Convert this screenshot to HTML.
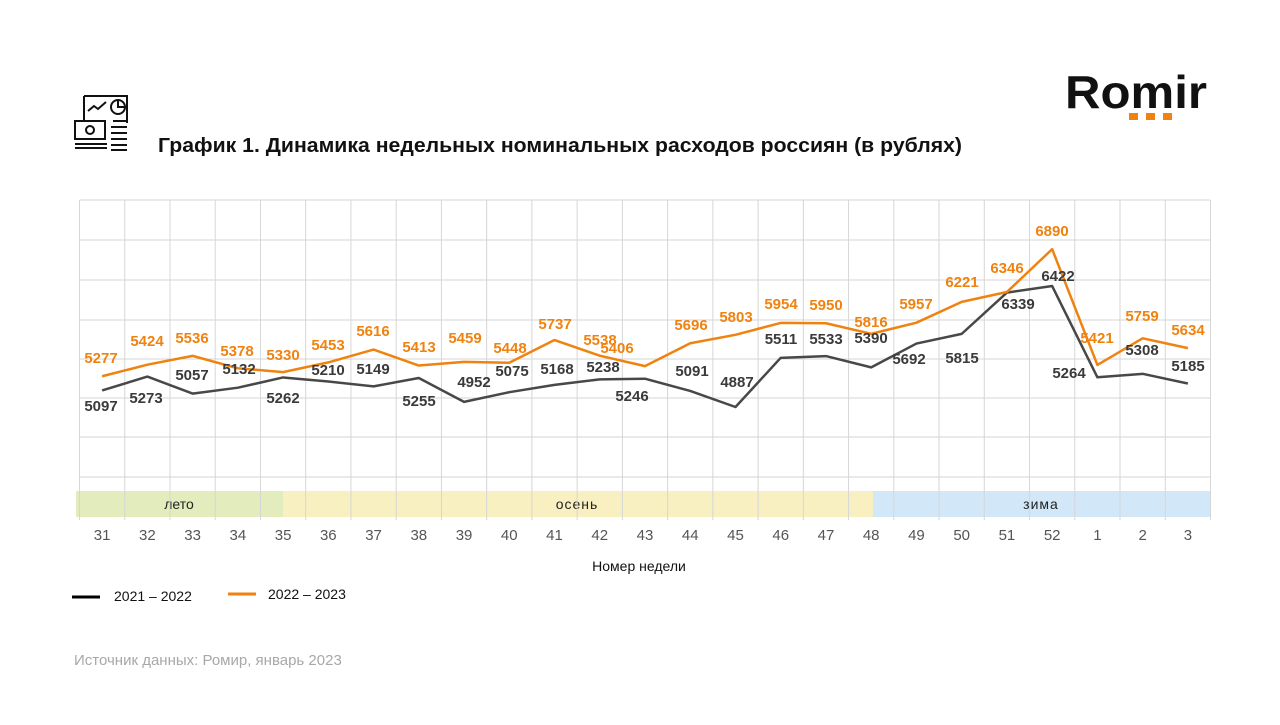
<!DOCTYPE html>
<html><head><meta charset="utf-8"><style>
body{margin:0;background:#fff;width:1280px;height:720px;overflow:hidden;font-family:"Liberation Sans",sans-serif}
</style></head><body>
<svg width="1280" height="720" xmlns="http://www.w3.org/2000/svg" font-family="Liberation Sans, sans-serif">
<g fill="none" stroke="#111" stroke-width="2">
<path d="M84 96 L127 96 L127 123 M84 96 L84 120"/>
<circle cx="118" cy="107" r="7"/><path d="M118 100 L118 107 L125 107"/>
<path d="M88 111 L94 106 L98 109 L106 102"/>
<rect x="75" y="121" width="30" height="18"/><circle cx="90" cy="130" r="4"/>
<path d="M75 144 L107 144 M75 148 L107 148"/>
<path d="M113 121 L127 121 M111 127 L127 127 M111 133 L127 133 M111 139 L127 139 M111 145 L127 145 M111 150 L127 150"/>
</g>
<text x="158" y="152" font-size="20" font-weight="bold" fill="#111" textLength="804" lengthAdjust="spacingAndGlyphs">График 1. Динамика недельных номинальных расходов россиян (в рублях)</text>
<text x="1065" y="108" font-size="46" font-weight="bold" fill="#111" textLength="142" lengthAdjust="spacingAndGlyphs">Romir</text>
<rect x="1129" y="113" width="9" height="7" fill="#f0820f"/><rect x="1146" y="113" width="9" height="7" fill="#f0820f"/><rect x="1163" y="113" width="9" height="7" fill="#f0820f"/>
<rect x="76" y="491" width="207" height="26" fill="#e2ecbc"/>
<rect x="283" y="491" width="590" height="26" fill="#f8f0c0"/>
<rect x="873" y="491" width="337" height="26" fill="#d2e8f8"/>
<text x="179" y="509" font-size="14" text-anchor="middle" fill="#222">лето</text>
<text x="577" y="509" font-size="14" text-anchor="middle" fill="#222" letter-spacing="1">осень</text>
<text x="1041" y="509" font-size="14" text-anchor="middle" fill="#222" letter-spacing="1">зима</text>
<g id="grid" stroke="#d6d6d6" stroke-width="1"></g>
<g id="ticks" font-size="15" fill="#555" text-anchor="middle"></g>
<polyline id="dk" fill="none" stroke="#484848" stroke-width="2.5" stroke-linejoin="round"/>
<polyline id="or" fill="none" stroke="#f0820f" stroke-width="2.5" stroke-linejoin="round"/>
<g id="lab" font-size="15" font-weight="bold" text-anchor="middle"></g>
<text x="639" y="571" font-size="14" text-anchor="middle" fill="#111">Номер недели</text>
<line x1="72" y1="597" x2="100" y2="597" stroke="#000" stroke-width="3"/>
<text x="114" y="601" font-size="14" fill="#111">2021 – 2022</text>
<line x1="228" y1="594" x2="256" y2="594" stroke="#f0820f" stroke-width="3"/>
<text x="268" y="599" font-size="14" fill="#111">2022 – 2023</text>
<text x="74" y="665" font-size="15" fill="#a8a8a8">Источник данных: Ромир, январь 2023</text>
</svg>
<script>
var ns="http://www.w3.org/2000/svg";
function el(t,a,p,txt){var e=document.createElementNS(ns,t);for(var k in a)e.setAttribute(k,a[k]);if(txt!=null)e.textContent=txt;document.getElementById(p).appendChild(e);}
var x0=79.5,w=45.24,n=25;
for(var i=0;i<=n;i++){var x=x0+i*w;el("line",{x1:x,y1:200,x2:x,y2:520},"grid");}
[200,240,280,320,359,398,437,477].forEach(function(y){el("line",{x1:x0,y1:y,x2:1210,y2:y},"grid");});
var wk=[31,32,33,34,35,36,37,38,39,40,41,42,43,44,45,46,47,48,49,50,51,52,1,2,3];
wk.forEach(function(v,i){el("text",{x:x0+w*(i+.5),y:540},"ticks",v);});
var o=[5277,5424,5536,5378,5330,5453,5616,5413,5459,5448,5737,5538,5406,5696,5803,5954,5950,5816,5957,6221,6346,6890,5421,5759,5634];
var d=[5097,5273,5057,5132,5262,5210,5149,5255,4952,5075,5168,5238,5246,5091,4887,5511,5533,5390,5692,5815,6339,6422,5264,5308,5185];
function Y(v){return 407-(v-4887)*0.0788;}
document.getElementById("dk").setAttribute("points",d.map(function(v,i){return (x0+w*(i+.5))+","+Y(v)}).join(" "));
document.getElementById("or").setAttribute("points",o.map(function(v,i){return (x0+w*(i+.5))+","+Y(v)}).join(" "));
var ol=[[101,358],[147,341],[192,338],[237,351],[283,355],[328,345],[373,331],[419,347],[465,338],[510,348],[555,324],[600,340],[617,348],[691,325],[736,317],[781,304],[826,305],[871,322],[916,304],[962,282],[1007,268],[1052,231],[1097,338],[1142,316],[1188,330]];
var dl=[[101,406],[146,398],[192,375],[239,369],[283,398],[328,370],[373,369],[419,401],[474,382],[512,371],[557,369],[603,367],[632,396],[692,371],[737,382],[781,339],[826,339],[871,338],[909,359],[962,358],[1018,304],[1058,276],[1069,373],[1142,350],[1188,366]];
o.forEach(function(v,i){el("text",{x:ol[i][0],y:ol[i][1]+5,fill:"#f0820f"},"lab",v);});
d.forEach(function(v,i){el("text",{x:dl[i][0],y:dl[i][1]+5,fill:"#3a3a3a"},"lab",v);});
</script>
</body></html>
